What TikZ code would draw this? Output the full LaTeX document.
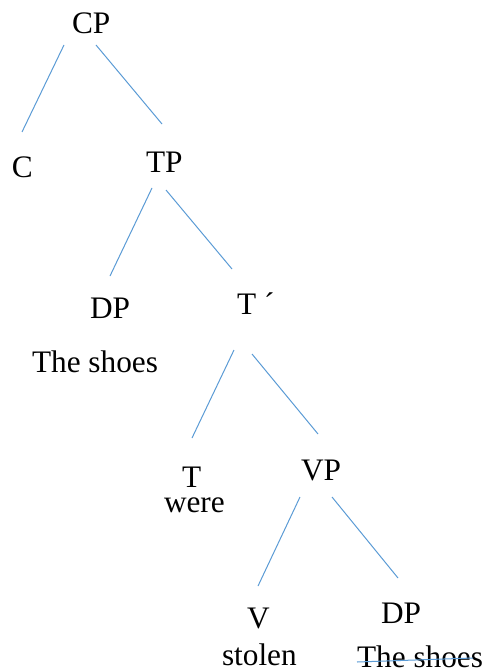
\documentclass[tikz,border=0pt]{standalone}
\usepackage{fontspec}
\setmainfont{Liberation Serif}
\definecolor{branch}{HTML}{5B9BD5}
\begin{document}
\begin{tikzpicture}[x=1pt,y=-1pt,
  lbl/.style={inner sep=0pt, outer sep=0pt, anchor=base west, font=\fontsize{31.3}{36}\selectfont},
  br/.style={draw=branch, line width=1pt}]
\useasboundingbox (0,0) rectangle (490,671);
% labels
\node[lbl] (cp) at (72,34) {CP};
\node[lbl] (c) at (12,177) {C};
\node[lbl] (tp) at (146,172) {TP};
\node[lbl] (dp1) at (90,318) {DP};
\node[lbl] (shoes1) at (32,372) {The shoes};
\node[lbl] (tbar) at (237,314) {T};
\node[lbl] (tbarprime) at (264,314) {´};
\node[lbl] (t) at (182,487) {T};
\node[lbl] (were) at (164,512) {were};
\node[lbl] (vp) at (301,480) {VP};
\node[lbl] (v) at (247,628) {V};
\node[lbl] (stolen) at (222,665) {stolen};
\node[lbl] (dp2) at (381,623) {DP};
\node[lbl] (shoes2) at (357,667) {The shoes};
% branch end points
\coordinate (cpL) at (64,45);  \coordinate (cL) at (22,132);
\coordinate (cpR) at (96,45);  \coordinate (tpT) at (162,124);
\coordinate (tpL) at (152,188); \coordinate (dpT) at (110,276);
\coordinate (tpR) at (166,190); \coordinate (tbarT) at (232,269);
\coordinate (tbarL) at (234,350); \coordinate (tT) at (192,438);
\coordinate (tbarR) at (252,354); \coordinate (vpT) at (318,434);
\coordinate (vpL) at (300,497); \coordinate (vT) at (258,586);
\coordinate (vpR) at (332,497); \coordinate (dp2T) at (398,578);
\coordinate (strikeL) at (357,662); \coordinate (strikeR) at (473,658);
% branches
\draw[br] (cpL) -- (cL);
\draw[br] (cpR) -- (tpT);
\draw[br] (tpL) -- (dpT);
\draw[br] (tpR) -- (tbarT);
\draw[br] (tbarL) -- (tT);
\draw[br] (tbarR) -- (vpT);
\draw[br] (vpL) -- (vT);
\draw[br] (vpR) -- (dp2T);
\draw[br] (strikeL) -- (strikeR);
\end{tikzpicture}
\end{document}
